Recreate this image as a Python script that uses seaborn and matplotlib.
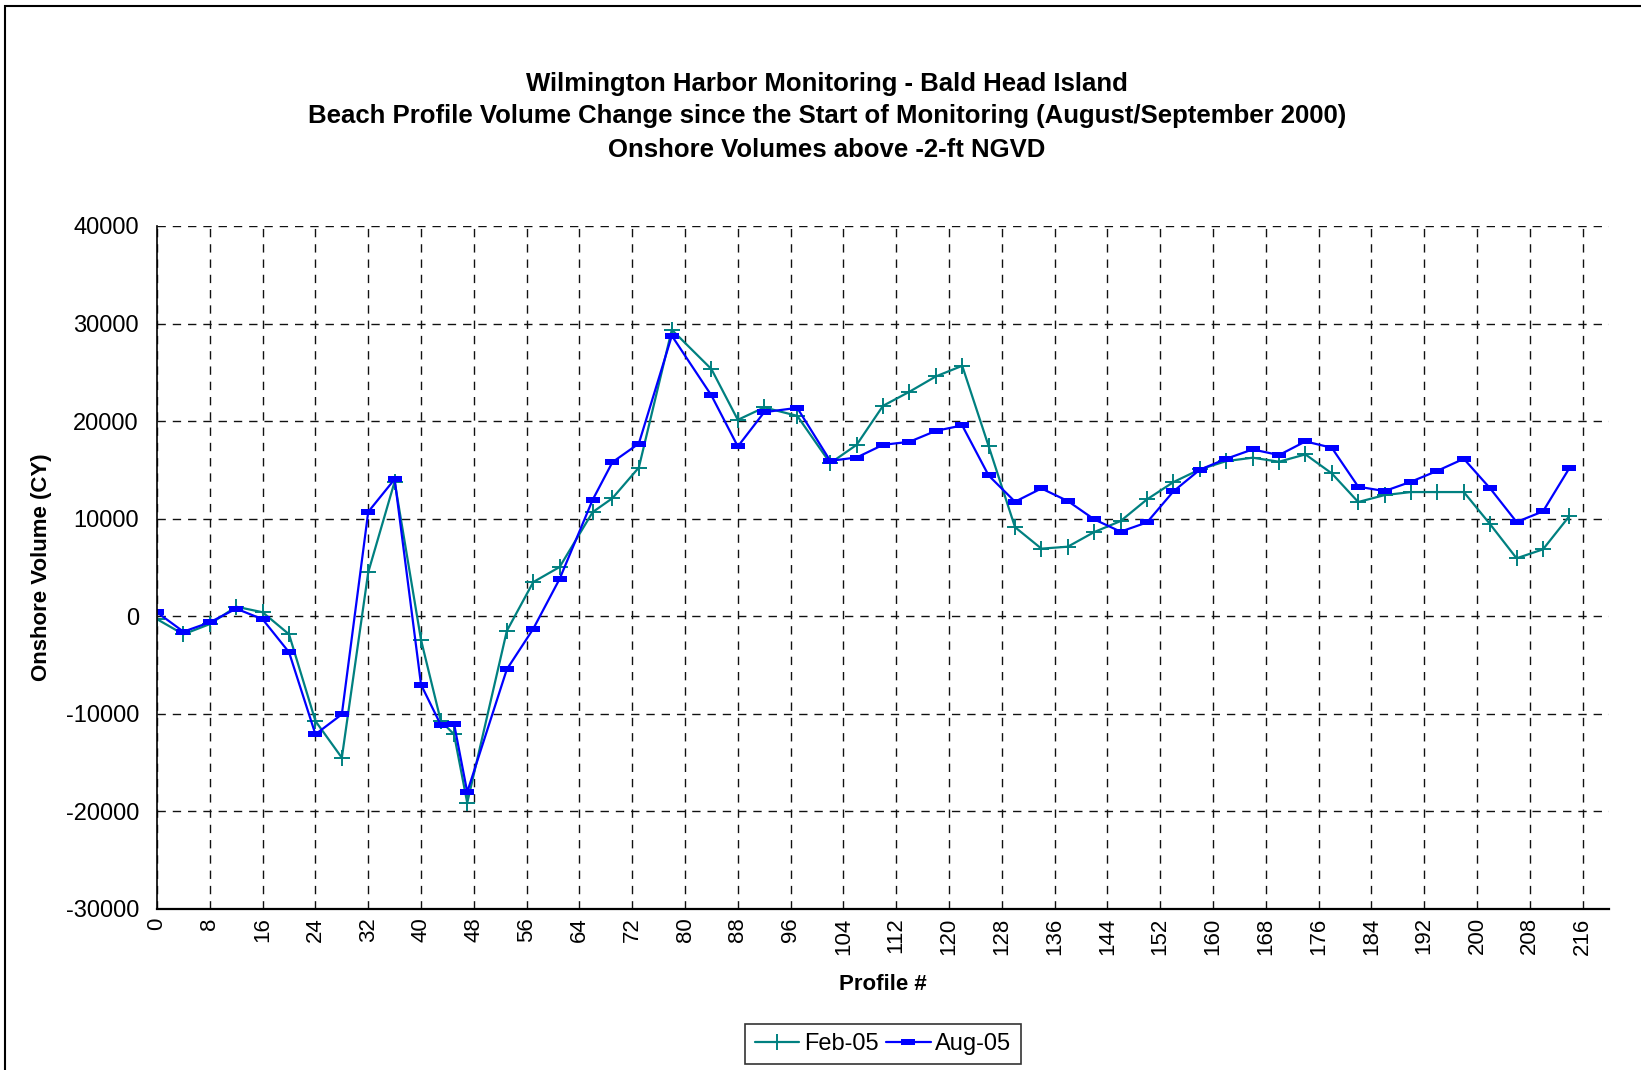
import seaborn as sns
import numpy as np
import pandas as pd
import matplotlib.pyplot as plt
from matplotlib.patches import Rectangle

sns.set_style('white')
plt.rcParams['font.family'] = ['Liberation Sans', 'DejaVu Sans']
plt.rcParams['axes.unicode_minus'] = False
plt.rcParams['text.color'] = 'black'
plt.rcParams['axes.labelcolor'] = 'black'
plt.rcParams['xtick.color'] = 'black'
plt.rcParams['ytick.color'] = 'black'

# profile numbers (x) shared by both surveys
profile = [0, 4, 8, 12, 16, 20, 24, 28, 32, 36, 40, 43, 45, 47, 53, 57, 61, 66, 69, 73,
           78, 84, 88, 92, 97, 102, 106, 110, 114, 118, 122, 126, 130, 134, 138, 142,
           146, 150, 154, 158, 162, 166, 170, 174, 178, 182, 186, 190, 194, 198, 202,
           206, 210, 214]

feb05 = [-300, -1850, -800, 980, 410, -1850, -10740, -14500, 4510, 13800, -2430,
         -10740, -12100, -19120, -1500, 3500, 5050, 10670, 12100, 15240, 29360, 25330,
         20130, 21400, 20540, 15690, 17570, 21570, 23010, 24580, 25670, 17440, 9130,
         6930, 7130, 8630, 9760, 11980, 13750, 15050, 15900, 16250, 15840, 16590, 14640,
         11710, 12420, 12730, 12730, 12730, 9420, 5940, 6860, 10270]

aug05 = [400, -1580, -620, 780, -310, -3690, -12100, -10050, 10700, 14050, -7010,
         -11150, -11010, -18020, -5440, -1290, 3830, 11930, 15790, 17700, 28750, 22630,
         17400, 20920, 21360, 15930, 16270, 17570, 17880, 19000, 19560, 14430, 11740,
         13100, 11810, 9930, 8670, 9620, 12800, 15020, 16140, 17100, 16520, 17920, 17270,
         13280, 12830, 13790, 14910, 16140, 13100, 9660, 10750, 15190]

df_feb = pd.DataFrame({'Profile': profile, 'Volume': feb05})
df_aug = pd.DataFrame({'Profile': profile, 'Volume': aug05})

fig = plt.figure(figsize=(16.41, 10.70), dpi=100)
ax = fig.add_axes([0.0957, 0.1505, 0.8848, 0.6383])

# excel style "dash" marker: short wide bar
dash_marker = [(-1, -0.45), (1, -0.45), (1, 0.45), (-1, 0.45), (-1, -0.45)]

sns.lineplot(data=df_feb, x='Profile', y='Volume', color='#008080', marker='+',
             markersize=12, markeredgewidth=1.4, markeredgecolor='#008080',
             sort=False, linewidth=1.6, label='Feb-05', ax=ax)
sns.lineplot(data=df_aug, x='Profile', y='Volume', color='#0000FF', marker=dash_marker,
             markersize=10, markeredgewidth=0, markerfacecolor='#0000FF',
             sort=False, linewidth=1.6, label='Aug-05', ax=ax)

ax.set_xlim(0, 220)
ax.set_ylim(-30000, 40000)
ax.set_xticks(np.arange(0, 217, 8))
ax.set_yticks(np.arange(-30000, 40001, 10000))
ax.tick_params(axis='x', labelsize=16, rotation=90, direction='inout', length=8, pad=2, width=1)
ax.tick_params(axis='y', labelsize=17, direction='out', length=6, pad=7, width=1)
ax.grid(True, color='#111111', linestyle=(0, (6, 5)), linewidth=1)

for s in ['top', 'right']:
    ax.spines[s].set_visible(False)
ax.spines['left'].set_color('black')
ax.spines['bottom'].set_color('black')
ax.spines['left'].set_linewidth(1.2)
ax.spines['bottom'].set_linewidth(1.6)

ax.set_xlabel('Profile #', fontsize=16, fontweight='bold', labelpad=14)
ax.set_ylabel('Onshore Volume (CY)', fontsize=16, fontweight='bold', labelpad=10)

fig.text(0.504, 1 - 84 / 1070, 'Wilmington Harbor Monitoring - Bald Head Island',
         ha='center', va='center', fontsize=18.5, fontweight='bold')
fig.text(0.504, 1 - 116 / 1070,
         'Beach Profile Volume Change since the Start of Monitoring (August/September 2000)',
         ha='center', va='center', fontsize=18.5, fontweight='bold')
fig.text(0.504, 1 - 150 / 1070, 'Onshore Volumes above -2-ft NGVD',
         ha='center', va='center', fontsize=18.5, fontweight='bold')

handles, labels = ax.get_legend_handles_labels()
ax.legend(handles, labels, loc='center', ncol=2, fontsize=17,
          bbox_to_anchor=(883 / 1641, 1 - 1044 / 1070), bbox_transform=fig.transFigure,
          frameon=True, fancybox=False, edgecolor='black', handlelength=1.9,
          handletextpad=0.2, columnspacing=0.3, borderpad=0.4)
ax.get_legend().get_frame().set_linewidth(1.2)

# chart area border
fig.patches.append(Rectangle((5 / 1641, -0.1), 1.2, 1.1 - 6 / 1070,
                             transform=fig.transFigure, fill=False,
                             edgecolor='black', linewidth=1.5))

plt.savefig('out.png', dpi=100)
